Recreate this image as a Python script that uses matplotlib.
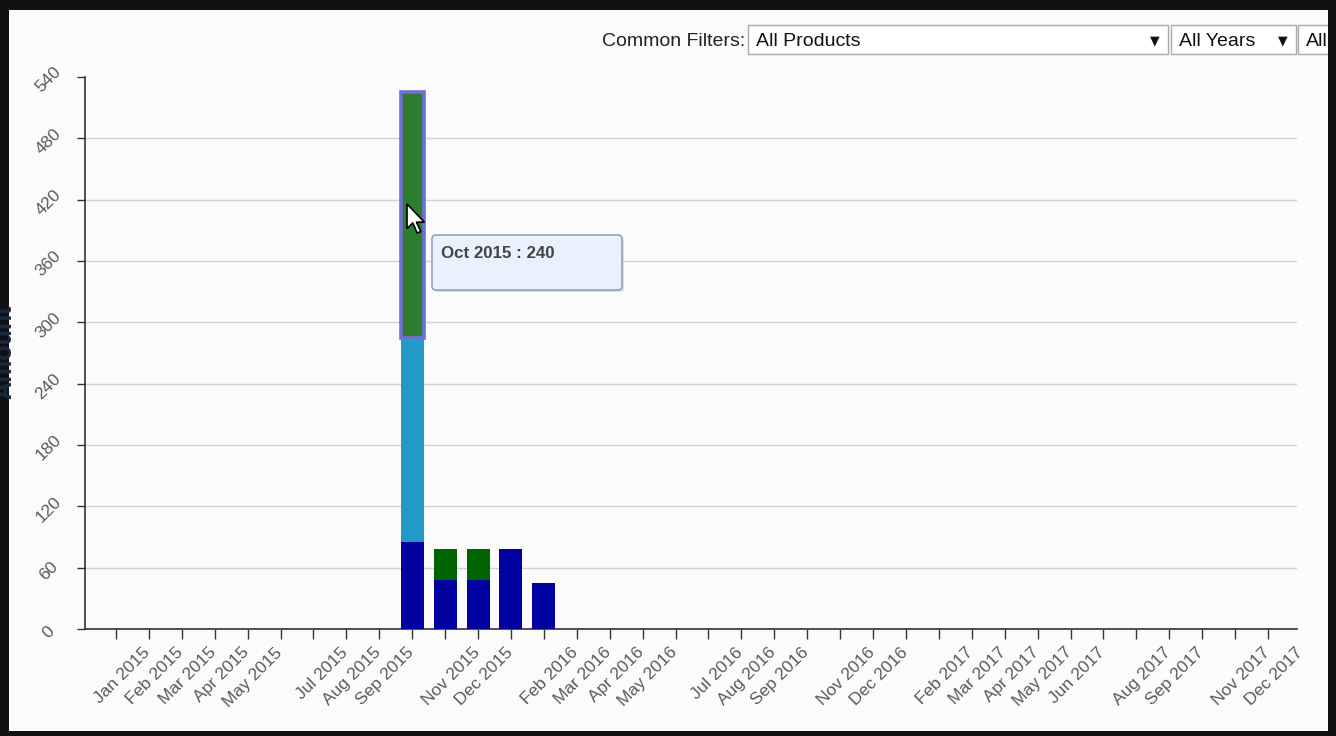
"""Stacked monthly amount chart (dashboard screenshot look)."""
import matplotlib
matplotlib.use("Agg")
import matplotlib.pyplot as plt
import matplotlib.transforms as mtransforms
from matplotlib.patches import Rectangle, FancyBboxPatch, Polygon

plt.rcParams["font.family"] = ["Liberation Sans", "DejaVu Sans"]

# ---- data ---------------------------------------------------------------
MONTH_NAMES = ["Jan", "Feb", "Mar", "Apr", "May", "Jun",
               "Jul", "Aug", "Sep", "Oct", "Nov", "Dec"]
months = [f"{m} {y}" for y in (2015, 2016, 2017) for m in MONTH_NAMES]

# labels the time axis actually printed (some months skipped)
shown_labels = ["Jan 2015", "Feb 2015", "Mar 2015", "Apr 2015", "May 2015",
                "Jul 2015", "Aug 2015", "Sep 2015", "Nov 2015", "Dec 2015",
                "Feb 2016", "Mar 2016", "Apr 2016", "May 2016",
                "Jul 2016", "Aug 2016", "Sep 2016", "Nov 2016", "Dec 2016",
                "Feb 2017", "Mar 2017", "Apr 2017", "May 2017", "Jun 2017",
                "Aug 2017", "Sep 2017", "Nov 2017", "Dec 2017"]

bar_months = ["Oct 2015", "Nov 2015", "Dec 2015", "Jan 2016", "Feb 2016"]
blue_vals = [85, 48, 48, 78, 45]
cyan_vals = [200, 0, 0, 0, 0]
green_vals = [240, 30, 30, 0, 0]
hover_month = "Oct 2015"

y_ticks = [0, 60, 120, 180, 240, 300, 360, 420, 480, 540]

C_BLUE = "#0202a0"
C_CYAN = "#229ac8"
C_GREEN = "#006400"
C_GREEN_HOVER = "#2e7d2e"
C_AXIS = "#333333"
C_TXT = "#5a5a5a"

W, H = 1336, 736
fig = plt.figure(figsize=(W / 100, H / 100), dpi=100, facecolor="#fbfbfb")

# main axes placed in pixel terms
x0, x1, ytop, ybot = 85, 1297, 77, 629
ax = fig.add_axes([x0 / W, (H - ybot) / H, (x1 - x0) / W, (ybot - ytop) / H])
ax.set_facecolor("#fbfbfb")

xpos = [months.index(m) for m in bar_months]
bw = 0.70
ax.bar(xpos, blue_vals, width=bw, color=C_BLUE, zorder=3)
ax.bar(xpos, cyan_vals, width=bw, bottom=blue_vals, color=C_CYAN, zorder=3)
bottoms = [b + c for b, c in zip(blue_vals, cyan_vals)]
gcolors = [C_GREEN_HOVER if m == hover_month else C_GREEN for m in bar_months]
gbars = ax.bar(xpos, green_vals, width=bw, bottom=bottoms, color=gcolors, zorder=3)
hi = bar_months.index(hover_month)
gbars[hi].set_edgecolor("#6f6fd8")
gbars[hi].set_linewidth(2.6)
gbars[hi].set_zorder(4)

ax.set_xlim(-0.94, 35.88)
ax.set_ylim(0, 540)

ax.set_yticks(y_ticks)
ax.set_yticklabels([str(v) for v in y_ticks])
ax.yaxis.grid(True, color="#d2d2d2", linewidth=1)
ax.get_ygridlines()[-1].set_visible(False)
ax.set_axisbelow(True)

ax.set_xticks(range(len(months)))
ax.set_xticklabels([m if m in shown_labels else "" for m in months])

for s in ("top", "right"):
    ax.spines[s].set_visible(False)
for s in ("left", "bottom"):
    ax.spines[s].set_color(C_AXIS)
    ax.spines[s].set_linewidth(1.2)

ax.tick_params(axis="x", direction="out", length=7.2, width=1, color=C_AXIS,
               pad=8, labelsize=12.5, labelcolor=C_TXT)
ax.tick_params(axis="y", direction="out", length=5.8, width=1, color=C_AXIS,
               pad=22, labelsize=12.5, labelcolor=C_TXT)

# d3-style rotated labels: the x labels sit one month to the right of their tick
shift = mtransforms.ScaledTranslation(0.32, 0, fig.dpi_scale_trans)
for lab in ax.get_xticklabels():
    lab.set_rotation(45)
    lab.set_ha("right")
    lab.set_va("center")
    lab.set_rotation_mode("anchor")
    lab.set_transform(lab.get_transform() + shift)
ydown = mtransforms.ScaledTranslation(0.02, -0.03, fig.dpi_scale_trans)
for lab in ax.get_yticklabels():
    lab.set_rotation(45)
    lab.set_ha("center")
    lab.set_va("center")
    lab.set_rotation_mode("anchor")
    lab.set_transform(lab.get_transform() + ydown)

# ---- overlay in pixel coordinates (filters, tooltip, cursor, frame) -------
ov = fig.add_axes([0, 0, 1, 1], zorder=10)
ov.set_xlim(0, W)
ov.set_ylim(H, 0)
ov.axis("off")
ov.patch.set_visible(False)

# y axis title, mostly hidden behind the window frame (as in the screenshot)
ov.text(4, 352, "Amount", rotation=90, ha="center", va="center",
        fontsize=18, fontweight="bold", color="#1a2a40")

# common filters
ov.text(745, 46, "Common Filters:", ha="right", va="baseline", fontsize=14, color="#222222")
for bx, bwid, txt, arrow in [(748, 420, "All Products", True),
                             (1171, 125, "All Years", True),
                             (1298, 60, "All", False)]:
    ov.add_patch(Rectangle((bx, 25), bwid, 29, facecolor="white",
                           edgecolor="#a9a9a9", linewidth=1))
    ov.text(bx + 8, 46, txt, ha="left", va="baseline", fontsize=14, color="#111111")
    if arrow:
        ov.text(bx + bwid - 13, 41, "▼", ha="center", va="center", fontsize=9,
                color="#111111", family="DejaVu Sans")

# tooltip
ov.add_patch(FancyBboxPatch((434, 237), 190, 55, boxstyle="round,pad=0,rounding_size=4",
                            facecolor="#c9ccd4", edgecolor="none", alpha=0.6))
ov.add_patch(FancyBboxPatch((432, 235), 190, 55, boxstyle="round,pad=0,rounding_size=4",
                            facecolor="#e9f1fc", edgecolor="#8e9bb3", linewidth=1.1))
ov.text(441, 253, "Oct 2015 : 240", ha="left", va="center", fontsize=12.2,
        fontweight="bold", color="#444444")

# mouse pointer
tip_x, tip_y, sc = 407, 204, 1.45
arrow_pts = [(0, 0), (0, 17), (4, 13), (7, 20), (9.5, 19), (6.5, 12.5), (12, 12.5)]
ov.add_patch(Polygon([(tip_x + px * sc, tip_y + py * sc) for px, py in arrow_pts],
                     closed=True, facecolor="white", edgecolor="black", linewidth=1.2))

# window frame
for rx, ry, rw, rh in [(0, 0, W, 10), (0, 0, 9, H), (W - 8, 0, 8, H), (0, H - 5, W, 5)]:
    ov.add_patch(Rectangle((rx, ry), rw, rh, facecolor="#111111", edgecolor="none"))

fig.savefig("out.png", dpi=100, facecolor=fig.get_facecolor())
